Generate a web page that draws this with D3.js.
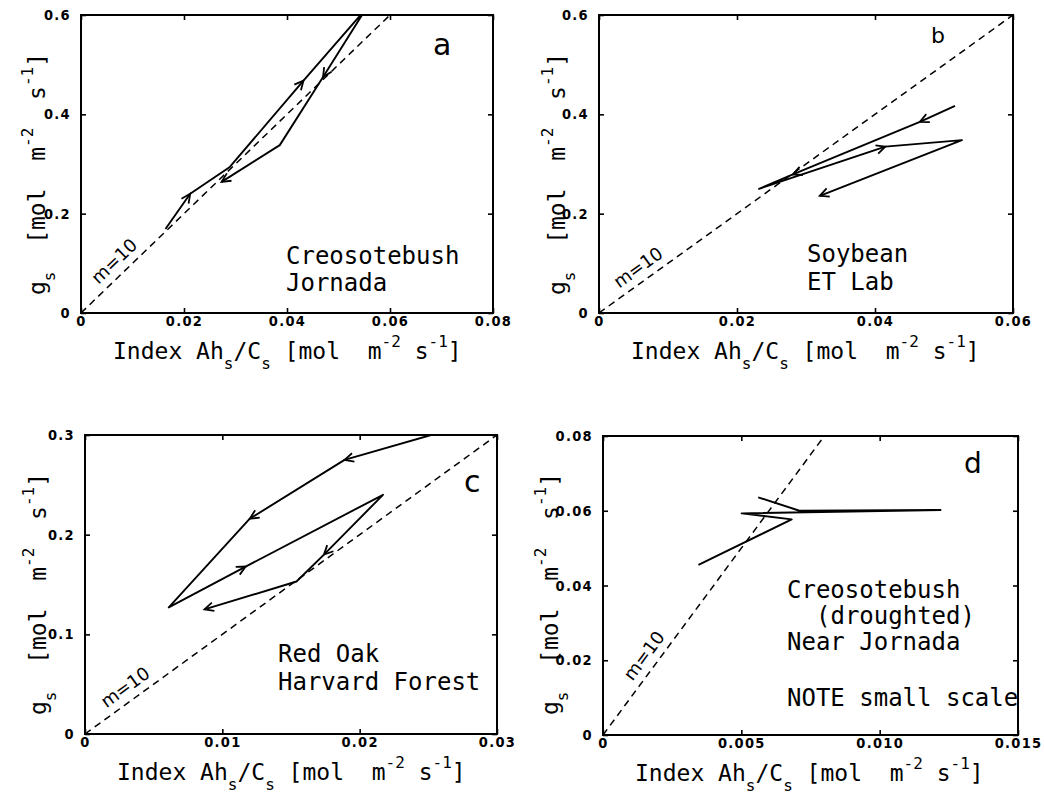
<!DOCTYPE html>
<html>
<head>
<meta charset="utf-8">
<script src="https://cdn.jsdelivr.net/npm/d3@7/dist/d3.min.js"></script>
<style>
body { margin: 0; background: #fff; }
</style>
</head>
<body>
<svg id="chart" width="1044" height="804"></svg>
<script>
// reference line g = m * index, drawn dashed in every panel
var slopeM = 10;

// panel a - Creosotebush, Jornada
var aX = [0.0164, 0.0212, 0.0289, 0.0432, 0.0553, 0.0470, 0.0454, 0.0386, 0.0273];
var aY = [0.169, 0.240, 0.294, 0.468, 0.612, 0.475, 0.449, 0.338, 0.264];
var aArrows = [1, 3, 5, 8];
var aXTicks = [0, 0.02, 0.04, 0.06, 0.08];
var aXLabels = ["0", "0.02", "0.04", "0.06", "0.08"];
var aYTicks = [0, 0.2, 0.4, 0.6];
var aYLabels = ["0", "0.2", "0.4", "0.6"];

// panel b - Soybean, ET Lab
var bX = [0.0516, 0.0465, 0.0281, 0.0232, 0.0415, 0.0526, 0.0320];
var bY = [0.417, 0.385, 0.279, 0.250, 0.335, 0.348, 0.236];
var bArrows = [1, 2, 4, 6];
var bXTicks = [0, 0.02, 0.04, 0.06];
var bXLabels = ["0", "0.02", "0.04", "0.06"];
var bYTicks = [0, 0.2, 0.4, 0.6];
var bYLabels = ["0", "0.2", "0.4", "0.6"];

// panel c - Red Oak, Harvard Forest
var cX = [0.0252, 0.0189, 0.0120, 0.0061, 0.0117, 0.0217, 0.0174, 0.0154, 0.0087];
var cY = [0.300, 0.275, 0.216, 0.127, 0.168, 0.240, 0.180, 0.153, 0.125];
var cArrows = [1, 2, 4, 6, 8];
var cXTicks = [0, 0.01, 0.02, 0.03];
var cXLabels = ["0", "0.01", "0.02", "0.03"];
var cYTicks = [0, 0.1, 0.2, 0.3];
var cYLabels = ["0", "0.1", "0.2", "0.3"];

// panel d - Creosotebush (droughted), near Jornada
var dX = [0.00345, 0.00682, 0.00501, 0.0122, 0.0071, 0.00561];
var dY = [0.0455, 0.0577, 0.0593, 0.0602, 0.0600, 0.0636];
var dArrows = [];
var dXTicks = [0, 0.005, 0.010, 0.015];
var dXLabels = ["0", "0.005", "0.010", "0.015"];
var dYTicks = [0, 0.02, 0.04, 0.06, 0.08];
var dYLabels = ["0", "0.02", "0.04", "0.06", "0.08"];

var svg = d3.select("#chart");
var MONO = "'DejaVu Sans Mono', monospace";
var TICKFONT = "'Liberation Sans Narrow', 'DejaVu Sans Condensed', sans-serif";

var panels = [
    {key: "a", x0: 81, x1: 493, y0: 15, y1: 313, xs: aX, ys: aY, arrows: aArrows,
     xTicks: aXTicks, xLabels: aXLabels, yTicks: aYTicks, yLabels: aYLabels,
     letter: [433, 55, 30], notes: [["Creosotebush", 286, 264], ["Jornada", 286, 291]],
     mPos: 0.0045, ylabX: 45, ylabY: 174},
    {key: "b", x0: 599, x1: 1013, y0: 15, y1: 313, xs: bX, ys: bY, arrows: bArrows,
     xTicks: bXTicks, xLabels: bXLabels, yTicks: bYTicks, yLabels: bYLabels,
     letter: [931, 43, 22], notes: [["Soybean", 807, 262], ["ET Lab", 807, 290]],
     mPos: 0.0036, ylabX: 565, ylabY: 174},
    {key: "c", x0: 85, x1: 497, y0: 435, y1: 734, xs: cX, ys: cY, arrows: cArrows,
     xTicks: cXTicks, xLabels: cXLabels, yTicks: cYTicks, yLabels: cYLabels,
     letter: [464, 492, 30], notes: [["Red Oak", 278, 662], ["Harvard Forest", 278, 690]],
     mPos: 0.0019, ylabX: 46, ylabY: 594},
    {key: "d", x0: 603, x1: 1018, y0: 436, y1: 735, xs: dX, ys: dY, arrows: dArrows,
     xTicks: dXTicks, xLabels: dXLabels, yTicks: dYTicks, yLabels: dYLabels,
     letter: [964, 473, 28],
     notes: [["Creosotebush", 787, 598], ["(droughted)", 816, 624], ["Near Jornada", 787, 650], ["NOTE small scale", 787, 706]],
     mPos: 0.0013, ylabX: 558, ylabY: 594}
];

var axisTitle = [["Index Ah", "n"], ["s", "sub"], ["/C", "n"], ["s", "sub"], [" [mol  m", "n"], ["-2", "sup"], [" s", "n"], ["-1", "sup"], ["]", "n"]];
var yTitle = [["g", "n"], ["s", "sub"], ["  [mol  m", "n"], ["-2", "sup"], ["  s", "n"], ["-1", "sup"], ["]", "n"]];

function addTitle(sel, pieces) {
    pieces.forEach(function (p, i) {
        var prev = i > 0 ? pieces[i - 1][1] : "n";
        var back = prev == "sub" ? -10 : prev == "sup" ? 12 : 0;
        var shift = p[1] == "sub" ? 10 : p[1] == "sup" ? -12 : 0;
        var t = sel.append("tspan").text(p[0]).attr("dy", back + shift);
        if (p[1] != "n") t.style("font-size", "16px");
    });
}

panels.forEach(function (p, pi) {
    var x = d3.scaleLinear().domain([p.xTicks[0], p.xTicks[p.xTicks.length - 1]]).range([p.x0, p.x1]);
    var y = d3.scaleLinear().domain([p.yTicks[0], p.yTicks[p.yTicks.length - 1]]).range([p.y1, p.y0]);
    var g = svg.append("g").attr("class", "panel-" + p.key);

    g.append("clipPath").attr("id", "clip" + pi)
        .append("rect").attr("x", p.x0).attr("y", p.y0)
        .attr("width", p.x1 - p.x0).attr("height", p.y1 - p.y0);

    // axes, inward ticks on all four sides
    var bottom = g.append("g").attr("transform", "translate(0," + p.y1 + ")")
        .call(d3.axisBottom(x).tickValues(p.xTicks).tickSize(-5).tickPadding(12)
            .tickFormat(function (d, i) { return p.xLabels[i]; }));
    var top = g.append("g").attr("transform", "translate(0," + p.y0 + ")")
        .call(d3.axisTop(x).tickValues(p.xTicks).tickSize(-5).tickFormat(""));
    var left = g.append("g").attr("transform", "translate(" + p.x0 + ",0)")
        .call(d3.axisLeft(y).tickValues(p.yTicks).tickSize(-5).tickPadding(10)
            .tickFormat(function (d, i) { return p.yLabels[i]; }));
    var right = g.append("g").attr("transform", "translate(" + p.x1 + ",0)")
        .call(d3.axisRight(y).tickValues(p.yTicks).tickSize(-5).tickFormat(""));
    [bottom, top, left, right].forEach(function (a) {
        a.select(".domain").remove();
        a.selectAll(".tick line").attr("stroke", "#000").attr("stroke-width", 1.6);
        a.selectAll("text").attr("fill", "#000")
            .style("font-family", TICKFONT).style("font-weight", "bold")
            .style("font-size", "14.5px").style("letter-spacing", "1.3px");
    });
    bottom.selectAll("text").attr("dy", "0.1em");

    g.append("rect").attr("x", p.x0).attr("y", p.y0)
        .attr("width", p.x1 - p.x0).attr("height", p.y1 - p.y0)
        .attr("fill", "none").attr("stroke", "#000").attr("stroke-width", 2);

    // dashed m = 10 line
    var xEnd = Math.min(x.domain()[1], y.domain()[1] / slopeM);
    g.append("line")
        .attr("x1", x(0)).attr("y1", y(0))
        .attr("x2", x(xEnd)).attr("y2", y(slopeM * xEnd))
        .attr("stroke", "#000").attr("stroke-width", 1.5)
        .attr("stroke-dasharray", "7,5");

    var ang = Math.atan2(y(slopeM * xEnd) - y(0), x(xEnd) - x(0)) * 180 / Math.PI;
    g.append("text")
        .attr("transform", "translate(" + x(p.mPos) + "," + y(slopeM * p.mPos) + ") rotate(" + ang + ")")
        .attr("y", -8)
        .style("font-family", "'DejaVu Sans', sans-serif").style("font-size", "18px")
        .text("m=" + slopeM);

    // observed hysteresis path
    var pts = p.xs.map(function (v, i) { return [v, p.ys[i]]; });
    g.append("path")
        .attr("clip-path", "url(#clip" + pi + ")")
        .attr("d", d3.line().x(function (d) { return x(d[0]); }).y(function (d) { return y(d[1]); })(pts))
        .attr("fill", "none").attr("stroke", "#000").attr("stroke-width", 1.9)
        .attr("stroke-linejoin", "round");

    // open arrowheads pointing along the path
    p.arrows.forEach(function (k) {
        var tx = x(pts[k][0]), ty = y(pts[k][1]);
        var a = Math.atan2(ty - y(pts[k - 1][1]), tx - x(pts[k - 1][0]));
        var L = 10, s = 0.45;
        var d = "M" + (tx - L * Math.cos(a - s)) + "," + (ty - L * Math.sin(a - s)) +
            "L" + tx + "," + ty +
            "L" + (tx - L * Math.cos(a + s)) + "," + (ty - L * Math.sin(a + s));
        g.append("path").attr("d", d).attr("fill", "none")
            .attr("stroke", "#000").attr("stroke-width", 1.8);
    });

    // panel letter and site notes
    g.append("text").attr("x", p.letter[0]).attr("y", p.letter[1])
        .style("font-family", "'DejaVu Sans', sans-serif").style("font-size", p.letter[2] + "px")
        .text(p.key);
    p.notes.forEach(function (n) {
        g.append("text").attr("x", n[1]).attr("y", n[2])
            .style("font-family", MONO).style("font-size", "24px")
            .attr("xml:space", "preserve")
            .text(n[0]);
    });

    // axis titles
    var xt = g.append("text").attr("x", p.x0 + 32).attr("y", p.y1 + 46)
        .style("font-family", MONO).style("font-size", "23px")
        .attr("xml:space", "preserve");
    addTitle(xt, axisTitle);

    var yt = g.append("text")
        .attr("transform", "translate(" + p.ylabX + "," + p.ylabY + ") rotate(-90)")
        .attr("text-anchor", "middle")
        .style("font-family", MONO).style("font-size", "23px")
        .attr("xml:space", "preserve");
    addTitle(yt, yTitle);
});
</script>
</body>
</html>
